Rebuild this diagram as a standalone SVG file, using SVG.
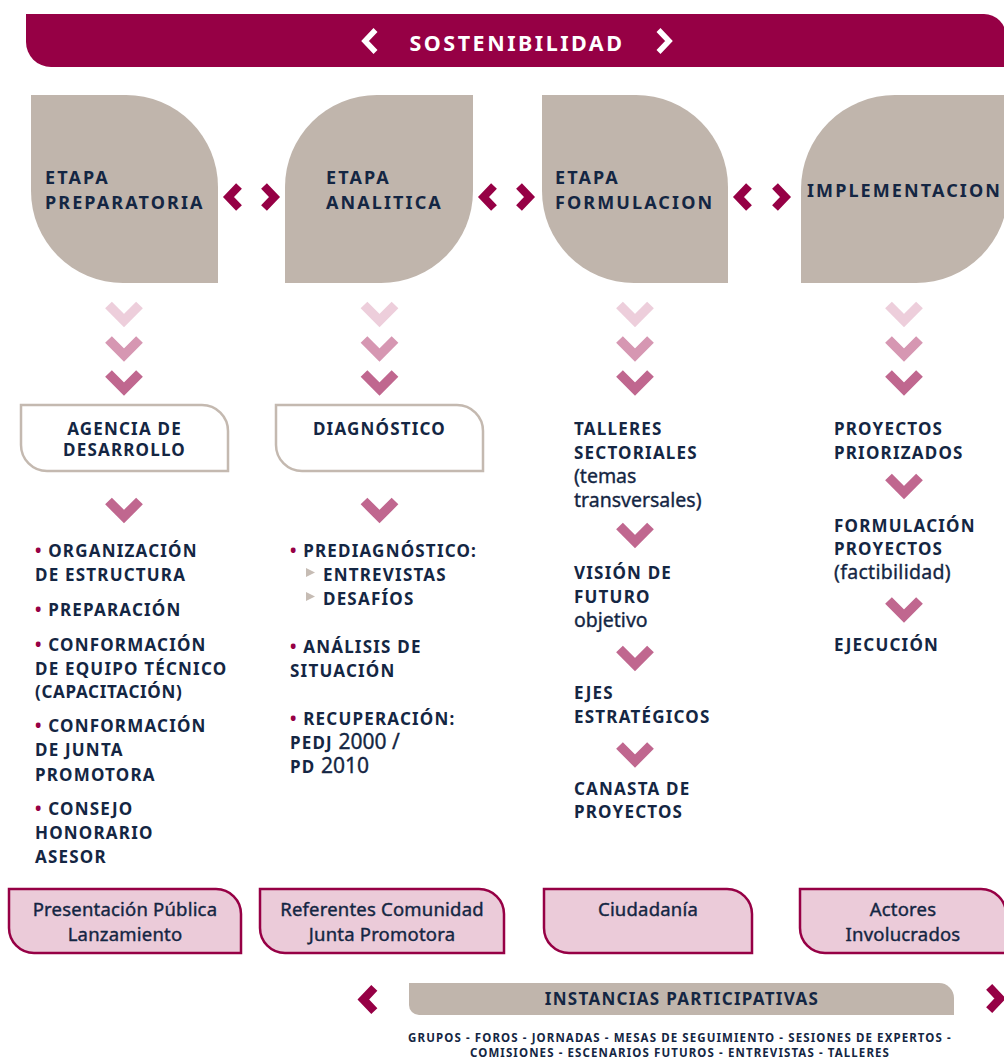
<svg xmlns="http://www.w3.org/2000/svg" xmlns:xlink="http://www.w3.org/1999/xlink" width="1004" height="1060" viewBox="0 0 1004 1060">
  <style>
    text { font-family: "Noto Sans", "Open Sans", "DejaVu Sans", sans-serif; fill: #142643; }
    .ttl { font-weight: 700; font-size: 18px; letter-spacing: 2.1px; }
    .b { font-weight: 700; font-size: 17px; letter-spacing: 1.2px; }
    .r { font-weight: 400; font-size: 19.5px; stroke: #142643; stroke-width: 0.35px; }
    .dot { fill: #960045; stroke: none; }
    .leaf { fill: #c0b5ac; }
    .sub { fill: #ffffff; stroke: #c4b9b0; stroke-width: 2.5; }
    .pink { fill: #ebcbd9; stroke: #960045; stroke-width: 2.5; }
    .pt { font-size: 18.5px; font-weight: 400; text-anchor: middle; stroke: #142643; stroke-width: 0.4px; letter-spacing: 0.2px; }
    .chev { fill: none; stroke: #960045; stroke-width: 8; stroke-linejoin: miter; stroke-linecap: butt; }
    .dn { fill: none; stroke-width: 9.5; stroke-linejoin: miter; stroke-linecap: butt; }
    .d1 { stroke: #edcedb; }
    .d2 { stroke: #d697b2; }
    .d3 { stroke: #c0678f; }
    .tri { fill: #c6bcb4; }
    .foot { font-weight: 700; font-size: 11.5px; letter-spacing: 1.1px; }
  </style>
  <defs>
    <path id="chL" d="M6.5,-11 L-4,0 L6.5,11"/>
    <path id="chR" d="M-6.5,-11 L4,0 L-6.5,11"/>
    <path id="chD" d="M-15.5,-9.5 L0,6 L15.5,-9.5"/>
  </defs>

  <!-- Top banner -->
  <g id="sostenibilidad">
    <path d="M26,14 H984 A22,22 0 0 1 1006,36 V67 H51 A25,25 0 0 1 26,42 Z" fill="#960045"/>
    <text x="517" y="51" text-anchor="middle" style="font-weight:700;font-size:21.5px;letter-spacing:2.5px;fill:#ffffff">SOSTENIBILIDAD</text>
    <use href="#chL" x="369" y="41" style="fill:none;stroke:#ffffff;stroke-width:5.5"/>
    <use href="#chR" x="665" y="41" style="fill:none;stroke:#ffffff;stroke-width:5.5"/>
  </g>

  <!-- Stage leaves -->
  <g id="etapa-preparatoria">
    <path class="leaf" d="M31,95 H126 A92,92 0 0 1 218,187 V283 H123 A92,92 0 0 1 31,191 Z"/>
    <text class="ttl" x="45" y="184">ETAPA</text>
    <text class="ttl" x="45" y="209">PREPARATORIA</text>
  </g>
  <g id="etapa-analitica">
    <path class="leaf" d="M377,95 H473 V191 A92,92 0 0 1 381,283 H285 V187 A92,92 0 0 1 377,95 Z"/>
    <text class="ttl" x="326" y="184">ETAPA</text>
    <text class="ttl" x="326" y="209">ANALITICA</text>
  </g>
  <g id="etapa-formulacion">
    <path class="leaf" d="M542,95 H636 A92,92 0 0 1 728,187 V283 H634 A92,92 0 0 1 542,191 Z"/>
    <text class="ttl" x="555" y="184">ETAPA</text>
    <text class="ttl" x="555" y="209">FORMULACION</text>
  </g>
  <g id="implementacion">
    <path class="leaf" d="M895,95 H1008 V191 A92,92 0 0 1 916,283 H801 V189 A94,94 0 0 1 895,95 Z"/>
    <text class="ttl" x="807" y="197">IMPLEMENTACION</text>
  </g>

  <!-- Sub-stage boxes -->
  <g id="agencia">
    <path class="sub" d="M21,405 H202 A26,26 0 0 1 228,431 V471 H47 A26,26 0 0 1 21,445 Z"/>
    <text class="b" x="124.5" y="435" text-anchor="middle">AGENCIA DE</text>
    <text class="b" x="124.5" y="456" text-anchor="middle">DESARROLLO</text>
  </g>
  <g id="diagnostico">
    <path class="sub" d="M276,405 H457 A26,26 0 0 1 483,431 V471 H302 A26,26 0 0 1 276,445 Z"/>
    <text class="b" x="379.5" y="435" text-anchor="middle">DIAGNÓSTICO</text>
  </g>

  <!-- Column 1 list -->
  <g id="lista-preparatoria">
    <text class="b" x="35" y="557"><tspan class="dot">•</tspan> ORGANIZACIÓN</text>
    <text class="b" x="35" y="581">DE ESTRUCTURA</text>
    <text class="b" x="35" y="616"><tspan class="dot">•</tspan> PREPARACIÓN</text>
    <text class="b" x="35" y="651"><tspan class="dot">•</tspan> CONFORMACIÓN</text>
    <text class="b" x="35" y="675">DE EQUIPO TÉCNICO</text>
    <text class="b" x="35" y="698" style="letter-spacing:0.7px">(CAPACITACIÓN)</text>
    <text class="b" x="35" y="732"><tspan class="dot">•</tspan> CONFORMACIÓN</text>
    <text class="b" x="35" y="756">DE JUNTA</text>
    <text class="b" x="35" y="781">PROMOTORA</text>
    <text class="b" x="35" y="815"><tspan class="dot">•</tspan> CONSEJO</text>
    <text class="b" x="35" y="839">HONORARIO</text>
    <text class="b" x="35" y="863">ASESOR</text>
  </g>

  <!-- Column 2 list -->
  <g id="lista-analitica">
    <text class="b" x="290" y="557"><tspan class="dot">•</tspan> PREDIAGNÓSTICO:</text>
    <polygon class="tri" points="306,568 315,572.5 306,577"/>
    <text class="b" x="323" y="581">ENTREVISTAS</text>
    <polygon class="tri" points="306,592 315,596.5 306,601"/>
    <text class="b" x="323" y="605">DESAFÍOS</text>
    <text class="b" x="290" y="653"><tspan class="dot">•</tspan> ANÁLISIS DE</text>
    <text class="b" x="290" y="677">SITUACIÓN</text>
    <text class="b" x="290" y="725"><tspan class="dot">•</tspan> RECUPERACIÓN:</text>
    <text class="b" x="290" y="749">PEDJ <tspan class="r" style="font-size:21px;letter-spacing:0">2000 /</tspan></text>
    <text class="b" x="290" y="773">PD <tspan class="r" style="font-size:21px;letter-spacing:0">2010</tspan></text>
  </g>

  <!-- Column 3 steps -->
  <g id="talleres">
    <text class="b" x="574" y="435">TALLERES</text>
    <text class="b" x="574" y="459">SECTORIALES</text>
    <text class="r" x="574" y="483">(temas</text>
    <text class="r" x="574" y="507">transversales)</text>
  </g>
  <g id="vision">
    <text class="b" x="574" y="579">VISIÓN DE</text>
    <text class="b" x="574" y="603">FUTURO</text>
    <text class="r" x="574" y="627">objetivo</text>
  </g>
  <g id="ejes">
    <text class="b" x="574" y="699">EJES</text>
    <text class="b" x="574" y="723">ESTRATÉGICOS</text>
  </g>
  <g id="canasta">
    <text class="b" x="574" y="795">CANASTA DE</text>
    <text class="b" x="574" y="818">PROYECTOS</text>
  </g>

  <!-- Column 4 steps -->
  <g id="proyectos-priorizados">
    <text class="b" x="834" y="435">PROYECTOS</text>
    <text class="b" x="834" y="459">PRIORIZADOS</text>
  </g>
  <g id="formulacion-proyectos">
    <text class="b" x="834" y="532">FORMULACIÓN</text>
    <text class="b" x="834" y="555">PROYECTOS</text>
    <text class="r" x="834" y="579" style="font-size:19.5px;letter-spacing:0.3px">(factibilidad)</text>
  </g>
  <g id="ejecucion">
    <text class="b" x="834" y="651">EJECUCIÓN</text>
  </g>

  <!-- Participation boxes -->
  <g id="presentacion">
    <path class="pink" d="M9,889 H216 A25,25 0 0 1 241,914 V953 H34 A25,25 0 0 1 9,928 Z"/>
    <text class="pt" x="125" y="916">Presentación Pública</text>
    <text class="pt" x="125" y="941">Lanzamiento</text>
  </g>
  <g id="referentes">
    <path class="pink" d="M260,889 H479 A25,25 0 0 1 504,914 V953 H285 A25,25 0 0 1 260,928 Z"/>
    <text class="pt" x="382" y="916">Referentes Comunidad</text>
    <text class="pt" x="382" y="941">Junta Promotora</text>
  </g>
  <g id="ciudadania">
    <path class="pink" d="M544,889 H727 A25,25 0 0 1 752,914 V953 H569 A25,25 0 0 1 544,928 Z"/>
    <text class="pt" x="648" y="916">Ciudadanía</text>
  </g>
  <g id="actores">
    <path class="pink" d="M800,889 H981 A25,25 0 0 1 1006,914 V953 H825 A25,25 0 0 1 800,928 Z"/>
    <text class="pt" x="903" y="916">Actores</text>
    <text class="pt" x="903" y="941">Involucrados</text>
  </g>

  <!-- Participation band -->
  <g id="instancias">
    <path d="M409,983 H939 A15,15 0 0 1 954,998 V1015 H419 A10,10 0 0 1 409,1005 Z" fill="#c0b5ac"/>
    <text x="682" y="1005" text-anchor="middle" style="font-weight:700;font-size:17px;letter-spacing:1.3px">INSTANCIAS PARTICIPATIVAS</text>
    <text class="foot" x="680" y="1042" text-anchor="middle">GRUPOS - FOROS - JORNADAS - MESAS DE SEGUIMIENTO - SESIONES DE EXPERTOS -</text>
    <text class="foot" x="680" y="1057" text-anchor="middle">COMISIONES - ESCENARIOS FUTUROS - ENTREVISTAS  - TALLERES</text>
  </g>

  <!-- Connectors: chevron arrows -->
  <g id="connectors">
    <use href="#chL" x="232.5" y="197" class="chev"/>
    <use href="#chR" x="270.5" y="197" class="chev"/>
    <use href="#chL" x="487.5" y="197" class="chev"/>
    <use href="#chR" x="525.5" y="197" class="chev"/>
    <use href="#chL" x="742.5" y="197" class="chev"/>
    <use href="#chR" x="781.5" y="197" class="chev"/>

    <use href="#chD" x="124" y="314.5" class="dn d1"/>
    <use href="#chD" x="124" y="349" class="dn d2"/>
    <use href="#chD" x="124" y="383" class="dn d3"/>
    <use href="#chD" x="379.5" y="314.5" class="dn d1"/>
    <use href="#chD" x="379.5" y="349" class="dn d2"/>
    <use href="#chD" x="379.5" y="383" class="dn d3"/>
    <use href="#chD" x="635" y="314.5" class="dn d1"/>
    <use href="#chD" x="635" y="349" class="dn d2"/>
    <use href="#chD" x="635" y="383" class="dn d3"/>
    <use href="#chD" x="904" y="314.5" class="dn d1"/>
    <use href="#chD" x="904" y="349" class="dn d2"/>
    <use href="#chD" x="904" y="383" class="dn d3"/>

    <use href="#chD" x="124" y="510.5" class="dn d3"/>
    <use href="#chD" x="379.5" y="510.5" class="dn d3"/>
    <use href="#chD" x="635" y="535.5" class="dn d3"/>
    <use href="#chD" x="635" y="658.5" class="dn d3"/>
    <use href="#chD" x="635" y="755" class="dn d3"/>
    <use href="#chD" x="904" y="486.5" class="dn d3"/>
    <use href="#chD" x="904" y="610" class="dn d3"/>

    <use href="#chL" x="367.5" y="999.5" class="chev" transform="translate(367.5 999.5) scale(1.05) translate(-367.5 -999.5)"/>
    <use href="#chR" x="996" y="998.5" class="chev" transform="translate(996 998.5) scale(1.05) translate(-996 -998.5)"/>
  </g>
</svg>
